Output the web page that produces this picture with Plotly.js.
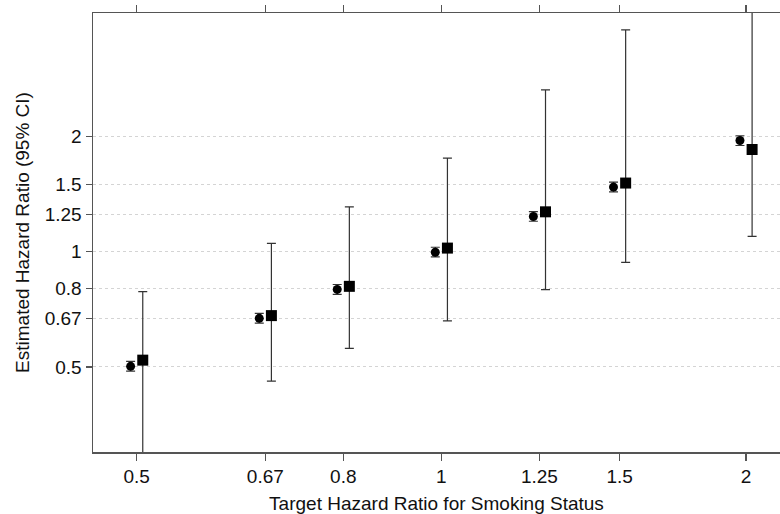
<!DOCTYPE html>
<html>
<head>
<meta charset="utf-8">
<script src="https://cdn.plot.ly/plotly-3.0.1.min.js"></script>
<style>html,body{margin:0;padding:0;background:#fff;}#chart{width:780px;height:514px;}</style>
</head>
<body>
<div id="chart"></div>
<script>
// Target hazard ratios (categories)
const targets = [0.5, 0.67, 0.8, 1, 1.25, 1.5, 2];
const tickLabels = ["0.5", "0.67", "0.8", "1", "1.25", "1.5", "2"];

// Series 1 (circles): estimate with narrow 95% CI
const circleEst   = [0.502, 0.670, 0.797, 0.997, 1.236, 1.475, 1.952];
const circleLower = [0.488, 0.651, 0.774, 0.969, 1.201, 1.433, 1.894];
const circleUpper = [0.517, 0.690, 0.821, 1.027, 1.273, 1.519, 2.008];

// Series 2 (squares): estimate with wide 95% CI
const squareEst   = [0.521, 0.681, 0.812, 1.022, 1.271, 1.511, 1.849];
const squareLower = [0.27,  0.459, 0.559, 0.660, 0.796, 0.938, 1.096];
const squareUpper = [0.787, 1.051, 1.310, 1.755, 2.647, 3.796, 4.6];

// horizontal dodge (log10 units) so the two series sit beside each target
const dodge = 0.006;
const xCircle = targets.map(t => t * Math.pow(10, -dodge));
const xSquare = targets.map(t => t * Math.pow(10, dodge));

const ink = '#333333';
const font = {family: 'Liberation Sans, Arial, sans-serif', size: 19, color: '#111'};

const traces = [
  {
    type: 'scatter', mode: 'markers', x: xCircle, y: circleEst,
    marker: {symbol: 'circle', size: 9, color: '#000'},
    error_y: {type: 'data', symmetric: false,
      array: circleUpper.map((u, i) => u - circleEst[i]),
      arrayminus: circleLower.map((l, i) => circleEst[i] - l),
      color: ink, thickness: 1.2, width: 4.5},
    hoverinfo: 'skip', showlegend: false
  },
  {
    type: 'scatter', mode: 'markers', x: xSquare, y: squareEst,
    marker: {symbol: 'square', size: 11, color: '#000'},
    error_y: {type: 'data', symmetric: false,
      array: squareUpper.map((u, i) => u - squareEst[i]),
      arrayminus: squareLower.map((l, i) => squareEst[i] - l),
      color: ink, thickness: 1.2, width: 4.5},
    hoverinfo: 'skip', showlegend: false
  }
];

const layout = {
  width: 780, height: 514,
  margin: {l: 93, r: 0, t: 13, b: 62},
  paper_bgcolor: '#fff', plot_bgcolor: '#fff',
  font: font,
  showlegend: false,
  xaxis: {
    type: 'log', range: [-0.3442, 0.3346],
    tickvals: targets, ticktext: tickLabels,
    ticks: 'outside', ticklen: 7, tickwidth: 1.3, tickcolor: '#555',
    showline: true, linecolor: '#555', linewidth: 1.5, mirror: 'ticks',
    showgrid: false, zeroline: false,
    tickfont: font,
    title: {text: 'Target Hazard Ratio for Smoking Status', font: font, standoff: 11},
    automargin: false
  },
  yaxis: {
    type: 'log', range: [-0.523, 0.6233],
    tickvals: targets, ticktext: tickLabels,
    ticks: 'outside', ticklen: 6, tickwidth: 1.3, tickcolor: '#555',
    showline: true, linecolor: '#555', linewidth: 1.5, mirror: false,
    showgrid: true, gridcolor: '#d4d4d4', griddash: 'dot', gridwidth: 1,
    zeroline: false,
    tickfont: font,
    title: {text: 'Estimated Hazard Ratio (95% CI)', font: font, standoff: 10},
    automargin: false
  }
};

Plotly.newPlot('chart', traces, layout, {displayModeBar: false, staticPlot: true});
</script>
</body>
</html>
